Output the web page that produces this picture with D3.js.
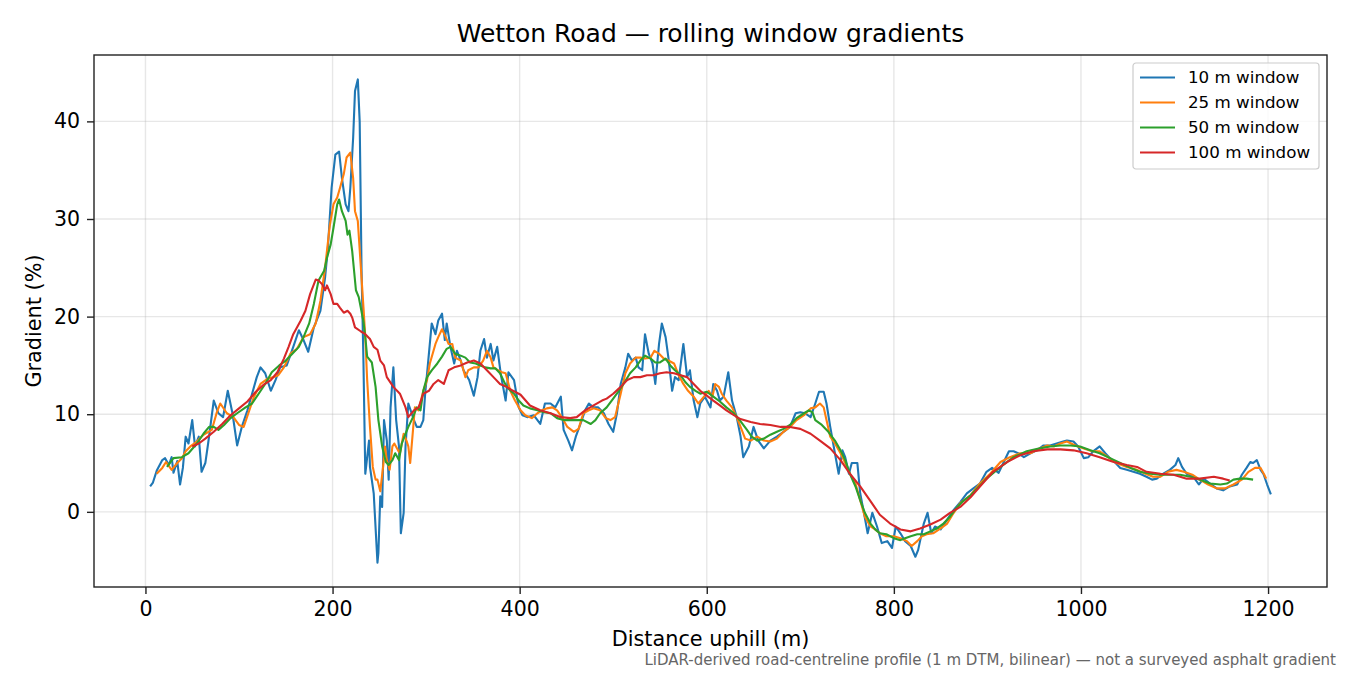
<!DOCTYPE html>
<html>
<head>
<meta charset="utf-8">
<script src="https://cdn.jsdelivr.net/npm/d3@7"></script>
<style>
  body { margin: 0; background: #fff; }
  text { font-family: 'DejaVu Sans', sans-serif; }
</style>
</head>
<body>
<div class="myChart"></div>
<script>
// 10 m window (distance in m, gradient in %)
var dist10 = [5,8,12,18,21,25,28,30,34,37,40,43,46,50,53,57,60,64,67,73,78,83,88,93,98,103,109,114,119,123,128,134,139,144,151,158,164,169,174,180,187,192,195,199,203,207,210,214,217,219,222,224,227,229,231,233,235,239,240,244,248,249,251,253,255,258,260,262,265,268,271,273,276,278,281,287,290,294,297,299,303,306,310,313,317,320,322,326,330,333,337,340,346,351,355,358,362,365,369,372,376,380,385,388,394,399,403,408,415,422,427,433,438,444,447,452,456,460,465,470,474,479,484,490,495,500,504,508,513,516,520,524,527,531,534,538,542,545,549,552,556,559,563,566,570,575,579,582,586,590,593,598,604,607,611,614,618,623,627,632,636,639,645,650,655,661,668,675,682,689,695,700,705,711,716,720,725,728,732,737,741,745,748,752,755,761,764,768,772,777,782,787,793,798,802,807,812,818,823,826,832,836,840,844,850,857,864,871,878,885,892,899,905,912,917,923,928,933,939,946,953,960,967,974,981,985,992,997,1003,1008,1013,1020,1026,1031,1037,1042,1049,1056,1063,1070,1076,1081,1088,1095,1101,1104,1108,1113,1120,1126,1131,1138,1145,1152,1159,1167,1172,1177,1181,1184,1188,1192,1195,1199,1203];
var grad10 = [2.6,3.0,4.2,5.3,5.5,4.8,5.6,4.0,5.2,2.8,4.5,7.7,7.0,9.4,6.7,7.7,4.1,5.0,7.0,11.4,10.1,9.7,12.4,10.1,6.8,8.7,10.4,12.1,13.8,14.8,14.2,12.4,13.5,14.8,15.0,16.9,18.6,17.6,16.4,18.9,20.6,24.0,27.0,33.2,36.6,36.9,34.2,31.5,30.8,33.2,38.3,43.1,44.3,40.0,24.7,15.5,3.9,7.3,4.6,1.9,-5.2,-4.2,1.6,0.5,9.4,7.3,3.3,10.7,14.8,9.4,6.7,-2.2,-0.1,6.7,11.1,9.4,8.7,8.7,9.4,12.1,16.2,19.3,18.2,19.6,20.3,17.6,19.3,16.9,15.2,16.5,15.5,14.5,13.5,11.9,13.8,16.5,17.7,15.8,17.2,15.5,16.9,14.0,11.4,14.3,13.5,10.7,9.9,9.7,9.9,9.0,11.1,11.1,10.7,11.8,8.4,7.3,6.3,7.7,9.0,10.4,11.1,10.7,10.7,10.1,9.0,8.2,10.1,13.1,14.8,16.2,15.5,15.8,14.8,14.5,18.2,16.2,15.2,13.1,17.2,19.3,17.9,15.8,12.4,13.8,13.5,17.2,13.8,14.5,11.4,9.7,11.1,11.8,10.7,13.1,12.4,11.4,11.8,14.3,11.4,9.7,7.8,5.6,6.7,8.7,7.3,6.5,7.3,7.7,8.2,8.7,10.1,10.2,10.1,9.7,11.1,12.3,12.3,11.1,8.7,6.0,3.9,6.3,5.6,3.9,5.0,5.0,1.9,-0.1,-2.2,-0.1,-1.5,-3.2,-3.0,-3.7,-1.5,-2.2,-3.0,-3.5,-4.6,-3.9,-1.2,-0.1,-2.2,-1.5,-1.8,-0.8,0.2,1.0,1.9,2.4,2.9,4.1,4.5,4.0,5.0,6.2,6.2,6.0,5.6,6.0,6.3,6.8,6.8,7.0,7.2,7.3,7.2,6.7,5.5,5.6,6.2,6.7,6.0,5.5,5.0,4.5,4.3,4.1,3.9,3.6,3.3,3.4,3.9,4.3,4.8,5.5,4.6,3.9,3.6,2.8,3.4,2.9,2.4,2.2,2.6,2.8,3.8,4.5,5.1,5.0,5.3,4.3,3.9,2.8,1.8];

// 25 m window
var dist25 = [12,18,22,28,34,39,43,48,55,62,71,76,80,87,94,100,105,110,116,123,130,137,142,148,155,162,169,176,182,187,192,197,201,205,208,212,215,219,222,224,227,230,233,235,237,240,243,246,248,251,254,256,258,261,264,266,270,272,276,279,281,283,286,288,292,297,301,304,310,313,317,321,324,328,331,337,342,345,351,356,361,365,369,372,377,381,385,390,395,401,406,413,419,424,429,435,440,445,451,458,463,468,474,479,486,492,497,502,508,513,518,524,529,534,540,544,549,554,559,565,570,575,580,586,591,597,602,606,609,613,616,621,627,632,637,641,647,654,661,668,675,682,689,696,704,711,716,721,725,728,732,737,743,748,753,759,764,769,775,780,785,792,800,807,814,819,825,830,835,842,850,857,864,871,882,892,903,914,924,935,946,956,964,971,978,985,994,1003,1012,1020,1029,1038,1049,1060,1069,1077,1085,1093,1102,1110,1119,1127,1136,1145,1154,1163,1172,1179,1186,1192,1196,1198];
var grad25 = [3.9,4.5,5.1,4.3,5.0,5.5,6.2,6.7,7.2,7.9,8.4,10.1,11.1,10.1,9.7,8.9,8.7,10.1,11.8,13.1,13.6,13.8,14.0,14.8,16.2,16.7,17.9,18.2,19.3,21.6,25.0,29.3,31.5,32.2,33.2,34.6,36.3,36.8,34.2,30.8,29.8,25.4,21.0,17.9,13.5,8.7,4.6,3.3,3.3,2.1,4.6,6.7,5.3,4.3,6.7,7.0,6.3,6.0,8.0,7.3,6.7,5.0,8.4,10.7,10.4,12.4,13.5,15.2,17.2,17.9,18.7,17.9,17.2,17.2,15.8,15.5,13.8,14.5,14.8,14.8,15.5,16.5,15.8,14.8,14.5,14.3,14.2,12.4,11.4,10.4,9.9,9.6,10.1,10.4,10.6,10.7,10.4,9.7,8.7,8.2,8.5,10.1,10.4,10.6,10.4,9.6,9.4,9.7,12.1,14.2,15.2,15.8,15.8,15.7,15.8,16.5,16.2,15.7,15.5,15.2,14.0,13.1,12.4,11.8,11.1,11.8,12.4,11.8,13.1,12.8,12.1,11.4,10.7,9.7,8.5,7.5,7.3,7.7,7.3,7.2,7.5,8.2,8.7,9.4,9.9,10.6,10.7,11.1,10.7,9.4,7.7,7.0,6.0,5.0,3.9,2.9,1.2,-0.5,-1.5,-1.8,-2.2,-2.5,-2.5,-2.7,-3.0,-3.5,-3.0,-2.5,-2.3,-2.2,-1.7,-1.2,-0.1,0.9,1.7,2.9,3.9,5.1,5.6,6.0,6.0,6.5,6.8,6.7,7.0,7.2,6.8,6.5,6.2,6.2,5.6,5.0,4.6,4.3,3.9,3.6,3.6,4.1,4.3,4.1,3.8,3.3,2.8,2.4,2.4,2.8,3.3,4.1,4.5,4.5,3.8,3.4];

// 50 m window
var dist50 = [23,30,39,46,55,62,68,73,78,84,91,98,107,114,121,128,135,143,150,157,164,169,175,180,185,191,194,198,201,205,207,210,214,216,218,221,223,225,228,230,233,235,237,242,246,249,253,257,260,264,267,271,274,278,281,286,290,294,297,301,306,312,317,322,326,331,337,342,347,353,358,363,369,374,379,386,394,399,404,411,419,426,433,440,447,454,461,468,476,481,486,493,500,506,511,518,524,529,534,540,545,550,556,561,566,572,577,582,588,593,600,607,614,621,629,636,643,648,654,661,668,675,682,689,696,704,709,713,716,723,730,737,743,748,753,759,764,769,775,780,785,792,800,807,812,818,825,832,839,846,853,860,867,874,882,889,899,914,928,942,956,967,978,989,999,1010,1020,1031,1042,1053,1063,1074,1085,1095,1106,1117,1127,1138,1149,1156,1163,1170,1177,1184];
var grad50 = [4.6,5.5,5.6,6.0,7.0,8.0,8.7,8.7,8.4,8.9,9.6,10.1,10.7,11.1,12.1,13.1,14.3,15.0,15.5,16.2,16.9,17.9,19.3,21.3,23.7,24.7,26.0,27.4,29.1,31.5,32.0,30.8,29.8,28.4,28.8,26.7,24.7,22.7,22.0,21.0,19.5,17.9,15.9,15.3,12.8,9.4,6.7,5.1,4.8,5.3,6.0,5.3,7.0,8.0,8.7,9.7,10.7,10.4,12.4,13.8,14.5,15.2,15.9,16.7,16.9,16.2,16.0,15.8,15.3,15.2,15.0,14.8,14.7,14.7,14.2,12.8,12.1,11.4,10.9,10.6,10.4,10.2,10.1,9.6,9.4,9.4,9.4,9.4,9.0,9.4,10.1,10.7,11.6,12.4,13.1,14.2,14.8,15.5,16.0,15.7,15.3,15.3,15.7,15.0,14.5,14.0,13.3,12.8,12.4,12.1,12.3,11.8,11.3,10.7,10.1,9.3,8.4,7.7,7.3,7.5,7.9,8.2,8.5,8.9,9.6,10.1,10.4,10.2,9.4,8.9,8.2,7.3,6.3,5.3,3.9,2.6,1.2,-0.1,-1.2,-1.8,-2.2,-2.3,-2.7,-2.9,-2.7,-2.5,-2.3,-2.3,-2.0,-1.7,-1.2,-0.5,0.4,1.1,1.7,2.4,3.4,4.6,5.6,6.2,6.5,6.7,6.8,6.8,6.7,6.3,6.0,5.5,5.0,4.5,4.1,3.9,3.8,3.8,3.8,3.6,3.3,2.9,2.8,2.9,3.3,3.4,3.4,3.3];

// 100 m window
var dist100 = [50,57,64,73,82,91,100,109,118,126,134,141,148,153,158,166,171,176,182,185,189,192,194,198,201,205,208,212,216,219,221,224,230,235,240,244,248,251,255,258,265,272,278,281,287,292,297,303,308,313,319,324,330,337,344,351,358,365,372,379,386,393,401,411,422,433,444,454,461,470,479,488,493,500,508,515,522,529,536,543,550,557,565,572,579,586,593,600,607,614,621,629,636,647,657,668,679,689,700,711,721,732,743,753,764,775,785,796,807,818,828,839,850,860,871,882,892,906,921,935,949,964,978,992,1006,1020,1035,1049,1060,1070,1085,1099,1113,1127,1142,1152,1159];
var grad100 = [6.7,7.0,7.5,8.2,9.0,9.9,10.6,11.3,12.3,13.0,13.5,14.3,15.7,16.9,18.2,19.6,20.6,22.3,23.8,23.7,23.3,22.7,23.2,22.3,21.3,21.3,20.9,20.4,20.6,20.3,19.9,18.9,18.5,18.2,17.7,16.9,16.6,15.5,15.0,13.8,12.8,12.1,10.7,9.7,10.4,10.7,12.1,12.4,13.1,13.5,13.1,14.5,14.8,15.0,15.3,15.5,15.2,14.5,13.8,13.1,12.8,12.4,12.0,10.9,10.4,10.1,9.7,9.6,9.7,10.4,10.9,11.4,11.6,12.1,12.8,13.5,13.8,13.8,14.0,14.0,14.2,14.3,14.2,14.0,13.8,13.1,12.4,11.9,11.4,10.9,10.4,9.9,9.5,9.2,9.0,8.9,8.7,8.7,8.5,8.0,7.3,6.5,5.3,3.9,2.6,1.1,-0.3,-1.2,-1.8,-2.0,-1.7,-1.3,-0.8,-0.1,0.5,1.5,2.6,4.1,5.1,5.8,6.2,6.4,6.4,6.3,6.0,5.6,5.1,4.8,4.6,4.1,3.9,3.8,3.4,3.4,3.6,3.4,3.2];

var seriesNames = ['10 m window', '25 m window', '50 m window', '100 m window'];
var seriesColors = ['#1f77b4', '#ff7f0e', '#2ca02c', '#d62728'];
var xTicks = [0, 200, 400, 600, 800, 1000, 1200];
var yTicks = [0, 10, 20, 30, 40];

var series = [
  { name: seriesNames[0], dist: dist10, grad: grad10 },
  { name: seriesNames[1], dist: dist25, grad: grad25 },
  { name: seriesNames[2], dist: dist50, grad: grad50 },
  { name: seriesNames[3], dist: dist100, grad: grad100 }
];

// width and height
var w = 1350;
var h = 675;
var m = { left: 94, right: 23, top: 55, bottom: 88 };
var pw = w - m.left - m.right;
var ph = h - m.top - m.bottom;

var x = d3.scaleLinear().domain([-55, 1263]).range([0, pw]);
var y = d3.scaleLinear().domain([-7.7, 46.8]).range([ph, 0]);

var svg = d3.select('.myChart')
  .append('svg')
  .attr('width', w)
  .attr('height', h);

var g = svg.append('g')
  .attr('transform', 'translate(' + m.left + ',' + m.top + ')');

// grid
g.append('g').selectAll('line')
  .data(xTicks)
  .enter().append('line')
  .attr('x1', function(d) { return x(d); })
  .attr('x2', function(d) { return x(d); })
  .attr('y1', 0).attr('y2', ph)
  .attr('stroke', '#b0b0b0').attr('stroke-opacity', 0.3).attr('stroke-width', 1.4);

g.append('g').selectAll('line')
  .data(yTicks)
  .enter().append('line')
  .attr('y1', function(d) { return y(d); })
  .attr('y2', function(d) { return y(d); })
  .attr('x1', 0).attr('x2', pw)
  .attr('stroke', '#b0b0b0').attr('stroke-opacity', 0.3).attr('stroke-width', 1.4);

// axes
var xAxis = g.append('g')
  .attr('transform', 'translate(0,' + ph + ')')
  .call(d3.axisBottom(x).tickValues(xTicks).tickFormat(d3.format('d')).tickSize(7).tickPadding(7));
var yAxis = g.append('g')
  .call(d3.axisLeft(y).tickValues(yTicks).tickFormat(d3.format('d')).tickSize(7).tickPadding(7));

[xAxis, yAxis].forEach(function(a) {
  a.select('.domain').remove();
  a.selectAll('line').attr('stroke', '#222').attr('stroke-width', 1.4);
  a.selectAll('text').attr('font-size', '20.5px').attr('fill', '#000')
    .attr('font-family', 'DejaVu Sans');
});

// lines
var line = d3.line()
  .x(function(d) { return x(d[0]); })
  .y(function(d) { return y(d[1]); });

g.selectAll('path.series')
  .data(series)
  .enter().append('path')
  .attr('class', 'series')
  .attr('fill', 'none')
  .attr('stroke', function(d, i) { return seriesColors[i]; })
  .attr('stroke-width', 2.1)
  .attr('stroke-linejoin', 'round')
  .attr('d', function(d) { return line(d3.zip(d.dist, d.grad)); });

// frame
g.append('rect')
  .attr('width', pw).attr('height', ph)
  .attr('fill', 'none').attr('stroke', '#222').attr('stroke-width', 1.4);

// legend
var lg = svg.append('g').attr('transform', 'translate(1133,63)');
lg.append('rect')
  .attr('width', 186).attr('height', 106).attr('rx', 3)
  .attr('fill', '#fff').attr('fill-opacity', 0.8)
  .attr('stroke', '#ccc').attr('stroke-width', 1.2);
var items = lg.selectAll('g.item')
  .data(seriesNames)
  .enter().append('g')
  .attr('transform', function(d, i) { return 'translate(0,' + (14.5 + i * 25) + ')'; });
items.append('line')
  .attr('x1', 7).attr('x2', 42)
  .attr('stroke', function(d, i) { return seriesColors[i]; })
  .attr('stroke-width', 2.1);
items.append('text')
  .attr('x', 55).attr('dy', '0.35em')
  .attr('font-size', '16.7px')
  .text(function(d) { return d; });

// titles
svg.append('text')
  .attr('x', m.left + pw / 2).attr('y', 42)
  .attr('text-anchor', 'middle').attr('font-size', '25px')
  .text('Wetton Road \u2014 rolling window gradients');

svg.append('text')
  .attr('x', m.left + pw / 2).attr('y', 646)
  .attr('text-anchor', 'middle').attr('font-size', '20.8px')
  .text('Distance uphill (m)');

svg.append('text')
  .attr('transform', 'translate(41,' + (m.top + ph / 2) + ') rotate(-90)')
  .attr('text-anchor', 'middle').attr('font-size', '20.8px')
  .text('Gradient (%)');

svg.append('text')
  .attr('x', 1336).attr('y', 665)
  .attr('text-anchor', 'end').attr('font-size', '15px')
  .attr('fill', '#666')
  .text('LiDAR-derived road-centreline profile (1 m DTM, bilinear) \u2014 not a surveyed asphalt gradient');
</script>
</body>
</html>
